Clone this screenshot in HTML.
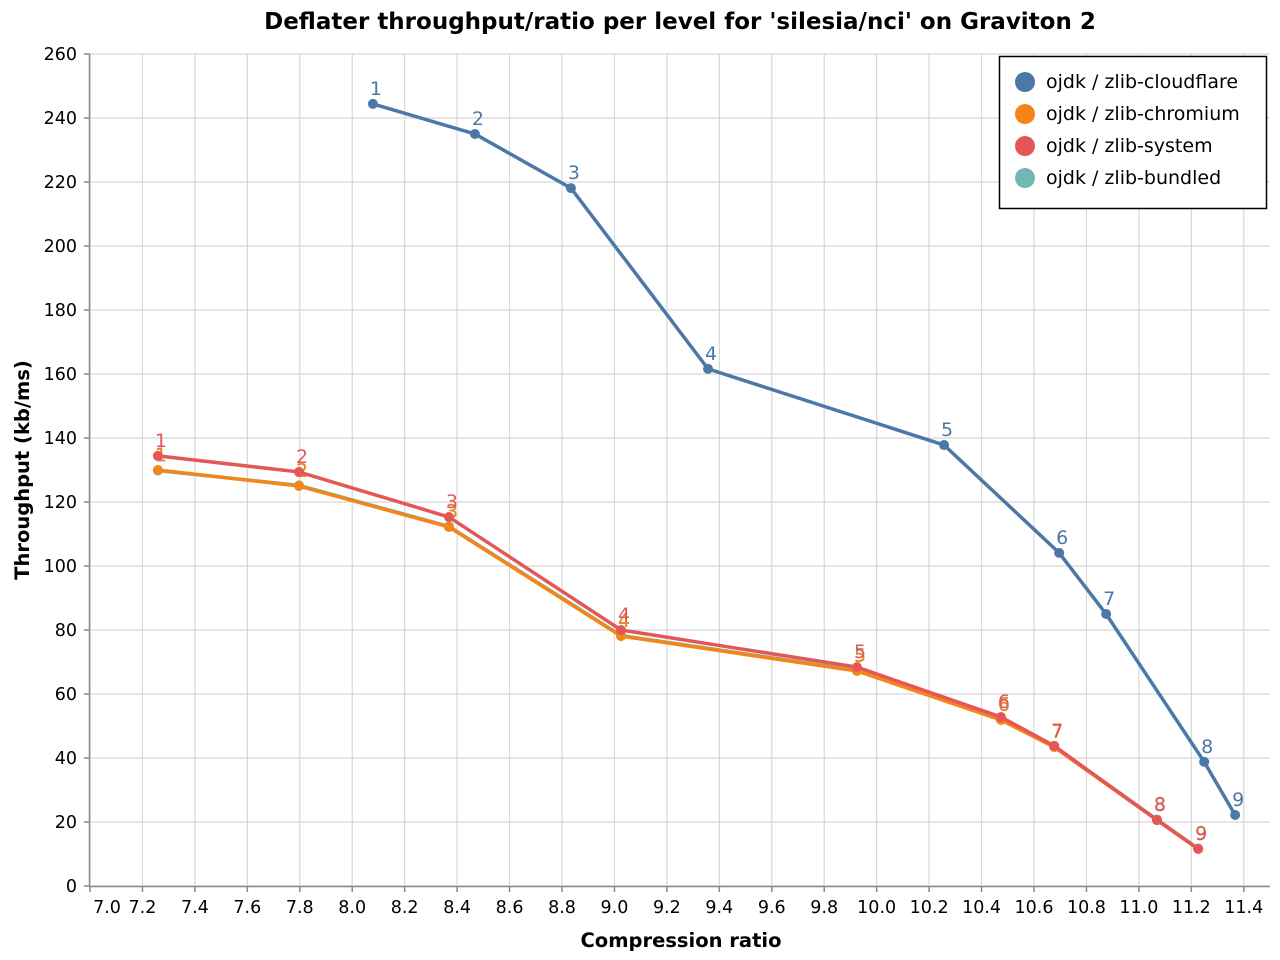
<!DOCTYPE html>
<html><head><meta charset="utf-8"><style>
html,body{margin:0;padding:0;background:#fff;}
svg{display:block;font-family:"DejaVu Sans","Liberation Sans",sans-serif;}
</style></head><body>
<svg id="chart" width="1280" height="960" xmlns="http://www.w3.org/2000/svg"></svg>
<script>
const xTicks=[7.0,7.2,7.4,7.6,7.8,8.0,8.2,8.4,8.6,8.8,9.0,9.2,9.4,9.6,9.8,10.0,10.2,10.4,10.6,10.8,11.0,11.2,11.4];
const yTicks=[0,20,40,60,80,100,120,140,160,180,200,220,240,260];
const seriesNames=["ojdk / zlib-cloudflare","ojdk / zlib-chromium","ojdk / zlib-system","ojdk / zlib-bundled"];
const levels=[1,2,3,4,5,6,7,8,9];
const cloudflareX=[8.079,8.468,8.834,9.357,10.257,10.696,10.875,11.249,11.367];
const cloudflareY=[244.4,235,218.1,161.6,137.8,104.1,85,38.8,22.2];
const chromiumX=[7.259,7.797,8.369,9.025,9.925,10.474,10.677,11.069,11.226];
const chromiumY=[130,125,112.2,78.1,67.2,51.9,43.4,20.6,11.6];
const systemX=[7.259,7.797,8.369,9.025,9.925,10.474,10.677,11.069,11.226];
const systemY=[134.4,129.4,115.3,80,68.4,52.8,43.8,20.6,11.6];
const bundledX=[7.259,7.797,8.369,9.025,9.925,10.474,10.677,11.069,11.226];
const bundledY=[129.8,125.2,112.4,78.3,67.4,52.1,43.6,20.8,11.7];

const colors=["#4c78a8","#f58518","#e45756","#72b7b2"];
const L=90,R=1270,T=54,B=886,X0=7.0,X1=11.5,Y0=0,Y1=260;
const xs=v=>L+(v-X0)/(X1-X0)*(R-L);
const ys=v=>B-(v-Y0)/(Y1-Y0)*(B-T);
const svg=document.getElementById('chart');
const NS="http://www.w3.org/2000/svg";
function mk(tag,attrs,parent){const e=document.createElementNS(NS,tag);for(const k in attrs)e.setAttribute(k,attrs[k]);(parent||svg).appendChild(e);return e;}

const grid=mk('g',{});


xTicks.forEach(t=>{mk('line',{x1:xs(t),x2:xs(t),y1:T,y2:B,stroke:'#d8d8d8','stroke-width':1.2},grid);});
yTicks.forEach(t=>{mk('line',{x1:L,x2:R,y1:ys(t),y2:ys(t),stroke:'#d8d8d8','stroke-width':1.2},grid);});

const xAxis=mk('g',{});


mk('line',{x1:L,x2:R,y1:B+0.5,y2:B+0.5,stroke:'#888','stroke-width':1.5},xAxis);
xTicks.forEach((t,i)=>{
  mk('line',{x1:xs(t),x2:xs(t),y1:B,y2:B+6,stroke:'#888','stroke-width':1.5},xAxis);
  const tx=mk('text',{x:i===0?xs(t)+17:xs(t),y:B+27,'text-anchor':'middle','font-size':17.5,fill:'#000'},xAxis);
  tx.textContent=t.toFixed(1);
  
  
});
const yAxis=mk('g',{});


mk('line',{x1:L-0.5,x2:L-0.5,y1:T,y2:B,stroke:'#888','stroke-width':1.5},yAxis);
yTicks.forEach(t=>{
  mk('line',{x1:L-6,x2:L,y1:ys(t),y2:ys(t),stroke:'#888','stroke-width':1.5},yAxis);
  const tx=mk('text',{x:L-13,y:ys(t)+6,'text-anchor':'end','font-size':17.5,fill:'#000'},yAxis);
  tx.textContent=t;
  
  
});
const xt=mk('text',{x:681,y:947,'text-anchor':'middle','font-size':19.5,'font-weight':'bold'});
xt.textContent='Compression ratio';


const yt=mk('text',{x:0,y:0,transform:'translate(29,470) rotate(-90)','text-anchor':'middle','font-size':19.5,'font-weight':'bold'});
yt.textContent='Throughput (kb/ms)';


const title=mk('text',{x:680,y:29,'text-anchor':'middle','font-size':23,'font-weight':'bold'});
title.textContent="Deflater throughput/ratio per level for 'silesia/nci' on Graviton 2";



const data=[[cloudflareX,cloudflareY],[chromiumX,chromiumY],[systemX,systemY],[bundledX,bundledY]];
const order=[0,3,1,2];
order.forEach(s=>{
  const [X,Y]=data[s];
  const g=mk('g',{});
  
  
  const p=mk('path',{d:X.map((x,i)=>(i?'L':'M')+xs(x)+','+ys(Y[i])).join(''),fill:'none',stroke:colors[s],'stroke-width':3.5},g);
  
  
  X.forEach((x,i)=>{
    const c=mk('circle',{cx:xs(x),cy:ys(Y[i]),r:5,fill:colors[s]},g);
    
    
    const t=mk('text',{x:xs(x)+3,y:ys(Y[i])-9,'font-size':19,fill:colors[s],'text-anchor':'middle'},g);
    t.textContent=levels[i];
    
    
  });
});

const leg=mk('g',{});


mk('rect',{x:999.5,y:56.5,width:267,height:152,fill:'#fff',stroke:'#000','stroke-width':1.5},leg);
seriesNames.forEach((n,i)=>{
  const e=mk('g',{},leg);
  
  
  mk('circle',{cx:1025,cy:82+i*32,r:10,fill:colors[i]},e);
  const t=mk('text',{x:1046,y:88+i*32,'font-size':19},e);
  t.textContent=n;
});
</script>
</body></html>
